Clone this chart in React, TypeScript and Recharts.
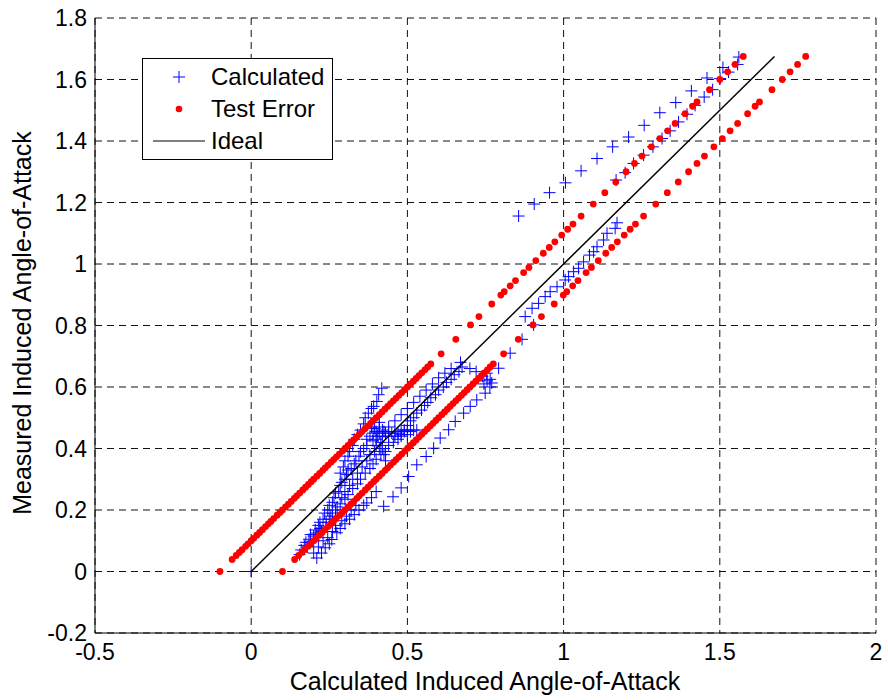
import { ScatterChart, Scatter, XAxis, YAxis, CartesianGrid } from "recharts";

const xTicks = [-0.5, 0, 0.5, 1, 1.5, 2];
const yTicks = [-0.2, 0, 0.2, 0.4, 0.6, 0.8, 1, 1.2, 1.4, 1.6, 1.8];

// measured values shared by the two test-error bands
const testErrorY = [
  0, 0.039, 0.052, 0.062, 0.071, 0.082, 0.09, 0.1, 0.108, 0.118,
  0.127, 0.136, 0.146, 0.155, 0.163, 0.172, 0.183, 0.192, 0.2, 0.21,
  0.219, 0.228, 0.238, 0.246, 0.255, 0.265, 0.274, 0.283, 0.292, 0.3,
  0.31, 0.319, 0.329, 0.337, 0.346, 0.356, 0.364, 0.373, 0.382, 0.392,
  0.401, 0.41, 0.419, 0.428, 0.437, 0.446, 0.455, 0.464, 0.473, 0.482,
  0.491, 0.5, 0.51, 0.519, 0.528, 0.537, 0.546, 0.555, 0.564, 0.573,
  0.582, 0.591, 0.6, 0.61, 0.619, 0.628, 0.637, 0.646, 0.656, 0.665,
  0.675, 0.708, 0.755, 0.802, 0.829, 0.87, 0.899, 0.91, 0.929, 0.946,
  0.972, 0.989, 1.011, 1.035, 1.054, 1.072, 1.094, 1.113, 1.13, 1.156,
  1.195, 1.232, 1.267, 1.3, 1.327, 1.351, 1.381, 1.408, 1.433, 1.457,
  1.489, 1.513, 1.527, 1.567, 1.6, 1.625, 1.649, 1.675,
];

const testErrorLeftX = [
  -0.1, -0.061, -0.048, -0.038, -0.029, -0.018, -0.01, 0, 0.008, 0.018,
  0.027, 0.036, 0.046, 0.055, 0.063, 0.072, 0.083, 0.092, 0.1, 0.11,
  0.119, 0.128, 0.138, 0.146, 0.155, 0.165, 0.174, 0.183, 0.192, 0.2,
  0.21, 0.219, 0.229, 0.237, 0.246, 0.256, 0.264, 0.273, 0.282, 0.292,
  0.301, 0.31, 0.319, 0.328, 0.337, 0.346, 0.355, 0.364, 0.373, 0.382,
  0.391, 0.4, 0.41, 0.419, 0.428, 0.437, 0.446, 0.455, 0.464, 0.473,
  0.482, 0.491, 0.5, 0.51, 0.519, 0.528, 0.537, 0.546, 0.556, 0.565,
  0.575, 0.608, 0.655, 0.702, 0.729, 0.77, 0.799, 0.81, 0.829, 0.846,
  0.872, 0.889, 0.911, 0.935, 0.954, 0.972, 0.994, 1.013, 1.03, 1.056,
  1.095, 1.132, 1.167, 1.2, 1.227, 1.251, 1.281, 1.308, 1.333, 1.357,
  1.389, 1.413, 1.427, 1.467, 1.5, 1.525, 1.549, 1.575,
];

const testErrorRightX = [
  0.1, 0.139, 0.152, 0.162, 0.171, 0.182, 0.19, 0.2, 0.208, 0.218,
  0.227, 0.236, 0.246, 0.255, 0.263, 0.272, 0.283, 0.292, 0.3, 0.31,
  0.319, 0.328, 0.338, 0.346, 0.355, 0.365, 0.374, 0.383, 0.392, 0.4,
  0.41, 0.419, 0.429, 0.437, 0.446, 0.456, 0.464, 0.473, 0.482, 0.492,
  0.501, 0.51, 0.519, 0.528, 0.537, 0.546, 0.555, 0.564, 0.573, 0.582,
  0.591, 0.6, 0.61, 0.619, 0.628, 0.637, 0.646, 0.655, 0.664, 0.673,
  0.682, 0.691, 0.7, 0.71, 0.719, 0.728, 0.737, 0.746, 0.756, 0.765,
  0.775, 0.808, 0.855, 0.902, 0.929, 0.97, 0.999, 1.01, 1.029, 1.046,
  1.072, 1.089, 1.111, 1.135, 1.154, 1.172, 1.194, 1.213, 1.23, 1.256,
  1.295, 1.332, 1.367, 1.4, 1.427, 1.451, 1.481, 1.508, 1.533, 1.557,
  1.589, 1.613, 1.627, 1.667, 1.7, 1.725, 1.749, 1.775,
];

// calculated vs measured, [x, y]
const calculated: [number, number][] = [
  [0, 0],
  // band along the ideal line
  [0.155, 0.055], [0.16, 0.07], [0.17, 0.085], [0.175, 0.095], [0.185, 0.105],
  [0.19, 0.12], [0.2, 0.115], [0.205, 0.135], [0.215, 0.15], [0.22, 0.16],
  [0.23, 0.17], [0.235, 0.19], [0.245, 0.2], [0.25, 0.215], [0.26, 0.225],
  [0.265, 0.24], [0.27, 0.255], [0.28, 0.26], [0.285, 0.28], [0.29, 0.29],
  [0.3, 0.3], [0.305, 0.315], [0.31, 0.33], [0.32, 0.335], [0.33, 0.35],
  [0.335, 0.36], [0.345, 0.375], [0.35, 0.39], [0.36, 0.4], [0.37, 0.41],
  [0.22, 0.14], [0.24, 0.16], [0.255, 0.18], [0.27, 0.2], [0.285, 0.22],
  [0.3, 0.235], [0.31, 0.25], [0.325, 0.27], [0.34, 0.285], [0.35, 0.3],
  [0.365, 0.32], [0.38, 0.335], [0.39, 0.35], [0.4, 0.365], [0.415, 0.38],
  [0.43, 0.39], [0.44, 0.41], [0.455, 0.42], [0.47, 0.43], [0.48, 0.445],
  [0.49, 0.46], [0.5, 0.475], [0.51, 0.49], [0.52, 0.5], [0.53, 0.515],
  [0.545, 0.525], [0.555, 0.54], [0.565, 0.55], [0.575, 0.565], [0.59, 0.575],
  [0.6, 0.59], [0.615, 0.6], [0.625, 0.615], [0.64, 0.625], [0.65, 0.64],
  [0.665, 0.65], [0.675, 0.665],
  [0.18, 0.08], [0.19, 0.095], [0.2, 0.1], [0.21, 0.125], [0.225, 0.13],
  [0.24, 0.145], [0.25, 0.17], [0.26, 0.19], [0.275, 0.21], [0.29, 0.24],
  [0.3, 0.26], [0.315, 0.28], [0.325, 0.3], [0.34, 0.32], [0.355, 0.34],
  [0.37, 0.36], [0.38, 0.38], [0.395, 0.39], [0.41, 0.4],
  [0.44, 0.47], [0.46, 0.49], [0.48, 0.51], [0.5, 0.53], [0.52, 0.55],
  [0.54, 0.57], [0.56, 0.59], [0.58, 0.61], [0.6, 0.63], [0.62, 0.645],
  [0.64, 0.66], [0.67, 0.68], [0.7, 0.66], [0.72, 0.65], [0.74, 0.635],
  // streaks right of the lower error band
  [0.2, 0.06], [0.215, 0.08], [0.23, 0.1], [0.245, 0.11], [0.26, 0.13],
  [0.27, 0.15], [0.29, 0.165], [0.305, 0.18], [0.32, 0.2], [0.335, 0.215],
  [0.21, 0.044], [0.225, 0.06], [0.237, 0.077], [0.25, 0.09], [0.258, 0.104],
  [0.274, 0.126], [0.285, 0.14], [0.3, 0.155], [0.315, 0.17], [0.33, 0.185],
  [0.345, 0.2], [0.36, 0.215], [0.37, 0.223], [0.385, 0.24], [0.4, 0.26],
  [0.424, 0.212], [0.454, 0.243], [0.48, 0.272], [0.504, 0.309], [0.53, 0.347],
  [0.56, 0.374], [0.584, 0.401], [0.605, 0.434], [0.632, 0.461], [0.653, 0.488],
  [0.68, 0.515], [0.701, 0.537], [0.722, 0.558], [0.749, 0.58], [0.77, 0.613],
  [0.764, 0.6], [0.755, 0.62], [0.745, 0.61], [0.754, 0.645], [0.765, 0.625],
  // star-shaped cluster
  [0.38, 0.44], [0.39, 0.45], [0.4, 0.455], [0.41, 0.45], [0.42, 0.44],
  [0.4, 0.43], [0.395, 0.465], [0.41, 0.47], [0.42, 0.46], [0.43, 0.45],
  [0.44, 0.455], [0.45, 0.45], [0.46, 0.455], [0.47, 0.45], [0.48, 0.46],
  [0.49, 0.455], [0.5, 0.46], [0.51, 0.455], [0.52, 0.46], [0.53, 0.46],
  [0.415, 0.42], [0.42, 0.4], [0.425, 0.38], [0.43, 0.36], [0.4, 0.41],
  [0.385, 0.47], [0.37, 0.43], [0.44, 0.44], [0.46, 0.44], [0.48, 0.44],
  [0.5, 0.445], [0.39, 0.425], [0.405, 0.44], [0.425, 0.455], [0.41, 0.485],
  // steep streak above the ideal line
  [0.285, 0.32], [0.295, 0.34], [0.3, 0.36], [0.31, 0.375], [0.315, 0.39],
  [0.325, 0.41], [0.33, 0.43], [0.34, 0.445], [0.35, 0.46], [0.36, 0.48],
  [0.365, 0.5], [0.375, 0.515], [0.385, 0.53], [0.392, 0.537], [0.402, 0.553],
  [0.408, 0.575], [0.418, 0.596],
  // middle section
  [0.792, 0.661], [0.829, 0.71], [0.867, 0.755], [0.904, 0.802], [0.877, 0.829],
  [0.899, 0.856], [0.92, 0.872], [0.941, 0.894], [0.957, 0.91], [0.979, 0.926],
  [1.005, 0.948], [1.016, 0.959], [1.032, 0.975], [1.048, 0.986], [1.064, 1.007],
  [1.083, 1.029], [1.096, 1.04], [1.107, 1.056], [1.128, 1.078], [1.139, 1.1],
  [1.165, 1.116], [1.171, 1.134],
  // upper streaks
  [0.856, 1.156], [0.906, 1.195], [0.955, 1.232], [1.006, 1.264], [1.056, 1.303],
  [1.107, 1.343], [1.157, 1.381], [1.208, 1.413], [1.258, 1.451], [1.308, 1.492],
  [1.359, 1.525], [1.409, 1.563], [1.459, 1.605], [1.51, 1.639], [1.561, 1.673],
  [1.168, 1.273], [1.197, 1.297], [1.224, 1.327], [1.256, 1.354], [1.286, 1.381],
  [1.315, 1.408], [1.341, 1.433], [1.368, 1.462], [1.395, 1.487], [1.421, 1.516],
  [1.45, 1.543], [1.477, 1.567], [1.501, 1.603], [1.528, 1.624], [1.557, 1.649],
];

const idealLine = [
  { x: 0, y: 0 },
  { x: 1.675, y: 1.675 },
];

const FONT = '"Liberation Sans", Arial, Helvetica, sans-serif';

const calcData = calculated.map(([x, y]) => ({ x, y }));
const errLeftData = testErrorY.map((y, i) => ({ x: testErrorLeftX[i], y }));
const errRightData = testErrorY.map((y, i) => ({ x: testErrorRightX[i], y }));

function PlusMark(props: any) {
  const { cx, cy } = props;
  if (cx == null || cy == null) return <g />;
  return (
    <path
      d={`M${cx - 6},${cy}H${cx + 6}M${cx},${cy - 6}V${cy + 6}`}
      stroke="#0000ff"
      strokeWidth={1}
      fill="none"
    />
  );
}

function DotMark(props: any) {
  const { cx, cy } = props;
  if (cx == null || cy == null) return <g />;
  return <circle cx={cx} cy={cy} r={3.4} fill="#ff0000" />;
}

function NoMark() {
  return <g />;
}

export default function App() {
  return (
    <div
      style={{
        position: "absolute",
        left: 0,
        top: 0,
        width: 888,
        height: 700,
        background: "#fff",
        fontFamily: FONT,
      }}
    >
      <ScatterChart width={888} height={700} margin={{ top: 18, right: 12, bottom: 0, left: 0 }}>
        <CartesianGrid stroke="#111" strokeDasharray="7 5" />
        <XAxis
          type="number"
          dataKey="x"
          domain={[-0.5, 2]}
          ticks={xTicks}
          interval={0}
          height={67}
          axisLine={{ stroke: "#000" }}
          tickLine={false}
          tickMargin={5}
          tick={{ fill: "#000", fontSize: 23, fontFamily: FONT }}
          label={() => (
            <text x={485} y={690} textAnchor="middle" fontSize={25} fontFamily={FONT} fill="#000">
              Calculated Induced Angle-of-Attack
            </text>
          )}
        />
        <YAxis
          type="number"
          dataKey="y"
          domain={[-0.2, 1.8]}
          ticks={yTicks}
          interval={0}
          width={95}
          axisLine={{ stroke: "#000" }}
          tickLine={false}
          tick={{ fill: "#000", fontSize: 23, fontFamily: FONT }}
          label={() => (
            <text
              x={31}
              y={323}
              textAnchor="middle"
              fontSize={25}
              fontFamily={FONT}
              fill="#000"
              transform="rotate(-90, 31, 323)"
            >
              Measured Induced Angle-of-Attack
            </text>
          )}
        />
        <Scatter name="Calculated" data={calcData} shape={PlusMark} isAnimationActive={false} />
        <Scatter name="Test Error" data={errLeftData} shape={DotMark} isAnimationActive={false} />
        <Scatter name="Test Error" data={errRightData} shape={DotMark} isAnimationActive={false} />
        <Scatter
          name="Ideal"
          data={idealLine}
          shape={NoMark}
          line={{ stroke: "#000", strokeWidth: 1.5 }}
          isAnimationActive={false}
        />
      </ScatterChart>
      <div
        style={{
          position: "absolute",
          left: 142,
          top: 58,
          width: 191,
          height: 102,
          boxSizing: "border-box",
          border: "1px solid #000",
          background: "#fff",
          fontSize: 24,
          color: "#000",
        }}
      >
        {[
          { label: "Calculated", kind: "plus" },
          { label: "Test Error", kind: "dot" },
          { label: "Ideal", kind: "line" },
        ].map((item, i) => (
          <div
            key={item.label}
            style={{ position: "absolute", left: 0, top: 2 + i * 32, height: 32, width: "100%" }}
          >
            <svg width={66} height={32} style={{ position: "absolute", left: 0, top: 0 }}>
              {item.kind === "plus" && (
                <path d="M30,16H42M36,10V22" stroke="#0000ff" strokeWidth={1} fill="none" />
              )}
              {item.kind === "dot" && <circle cx={36} cy={16} r={3.3} fill="#ff0000" />}
              {item.kind === "line" && (
                <line x1={10} y1={16} x2={62} y2={16} stroke="#555" strokeWidth={1.3} />
              )}
            </svg>
            <span style={{ position: "absolute", left: 68, top: 1, lineHeight: "30px", whiteSpace: "nowrap" }}>
              {item.label}
            </span>
          </div>
        ))}
      </div>
    </div>
  );
}
